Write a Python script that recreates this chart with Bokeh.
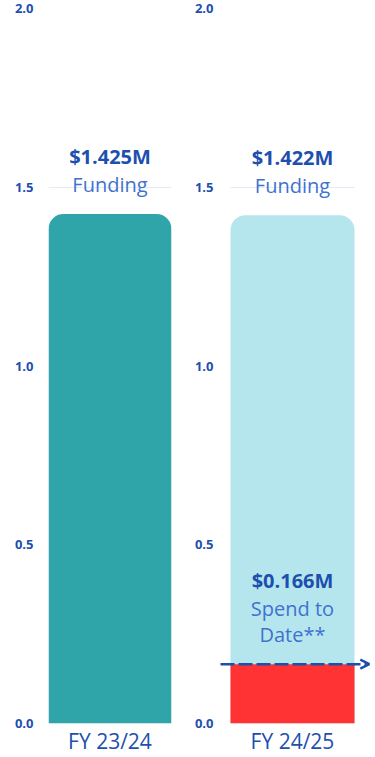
from bokeh.plotting import figure
from bokeh.layouts import row
from bokeh.models import (Range1d, FactorRange, FixedTicker, Arrow, OpenHead,
                          ColumnDataSource, NumeralTickFormatter)
from bokeh.core.properties import value
from bokeh.embed import file_html
from bokeh.resources import INLINE

# ---- data ----
years = ["FY 23/24", "FY 24/25"]
funding = [1.425, 1.422]
spend_to_date = [None, 0.166]
funding_labels = ["$1.425M", "$1.422M"]
spend_label = "$0.166M"
y_ticks = [0.0, 0.5, 1.0, 1.5, 2.0]

FONT = "Open Sans"
DARK_BLUE = "#1d4fae"
MID_BLUE = "#3f72cf"
GRID = "#e3ebf7"
BAR_COLORS = ["#2fa5aa", "#b5e6ed"]
RED = "#ff3333"


def make_panel(i, width, left_border, right_border, bar_w, standoff):
    p = figure(width=width, height=757, output_backend="svg", toolbar_location=None,
               x_range=FactorRange(years[i], range_padding=0),
               y_range=Range1d(0, 2.0),
               min_border_left=left_border, min_border_right=right_border,
               min_border_top=8, min_border_bottom=34)
    p.outline_line_color = None
    p.background_fill_color = "white"
    p.border_fill_color = "white"

    src = ColumnDataSource(dict(x=[years[i]], top=[funding[i]]))
    p.vbar(x="x", top="top", bottom=0, width=bar_w, source=src,
           fill_color=BAR_COLORS[i], line_color=None,
           border_radius=(15, 15, 0, 0))

    # labels above bar
    p.text(x=[years[i]], y=[funding[i]], text=[funding_labels[i]], y_offset=-58,
           text_align="center", text_baseline="middle", text_color=DARK_BLUE,
           text_font=value(FONT), text_font_size="20px", text_font_style="bold")
    p.text(x=[years[i]], y=[funding[i]], text=["Funding"], y_offset=-30,
           text_align="center", text_baseline="middle", text_color=MID_BLUE,
           text_font=value(FONT), text_font_size="20px")

    # axes
    p.yaxis.ticker = FixedTicker(ticks=y_ticks)
    p.yaxis.formatter = NumeralTickFormatter(format="0.0")
    p.yaxis.axis_line_color = None
    p.yaxis.major_tick_line_color = None
    p.yaxis.minor_tick_line_color = None
    p.yaxis.major_label_text_font = FONT
    p.yaxis.major_label_text_font_style = "bold"
    p.yaxis.major_label_text_font_size = "13px"
    p.yaxis.major_label_text_color = DARK_BLUE
    p.yaxis.major_label_standoff = standoff

    p.xaxis.axis_line_color = None
    p.xaxis.major_tick_line_color = None
    p.xaxis.minor_tick_line_color = None
    p.xaxis.major_label_text_font = FONT
    p.xaxis.major_label_text_font_size = "21px"
    p.xaxis.major_label_text_color = DARK_BLUE
    p.xaxis.major_label_standoff = -3

    p.xgrid.grid_line_color = None
    p.ygrid.grid_line_color = GRID
    p.ygrid.grid_line_width = 1
    p.ygrid.ticker = FixedTicker(ticks=y_ticks)
    half = bar_w / 2
    p.ygrid.cross_bounds = (0.5 - half, 0.5 + half)
    return p


left = make_panel(0, 187, 48, 16, 1.0, 9)
right = make_panel(1, 188, 25, 3, 0.775, -7)

# spend-to-date overlay
spend_src = ColumnDataSource(dict(x=[years[1]], top=[spend_to_date[1]]))
right.vbar(x="x", top="top", bottom=0, width=0.775, source=spend_src,
           fill_color=RED, line_color=None)

for txt, off, style, col in [(spend_label, -84, "bold", DARK_BLUE),
                             ("Spend to", -56, "normal", MID_BLUE),
                             ("Date**", -30, "normal", MID_BLUE)]:
    right.text(x=[years[1]], y=[spend_to_date[1]], text=[txt], y_offset=off,
               text_align="center", text_baseline="middle", text_color=col,
               text_font=value(FONT), text_font_size="20px", text_font_style=style)

right.add_layout(Arrow(x_start=0.05, x_end=0.98, y_start=spend_to_date[1], y_end=spend_to_date[1],
                       line_color=DARK_BLUE, line_width=2.5, line_dash="14 4",
                       end=OpenHead(size=9, line_color=DARK_BLUE, line_width=2.5)))

layout = row(left, right)
open("out.html", "w").write(file_html(layout, INLINE))
